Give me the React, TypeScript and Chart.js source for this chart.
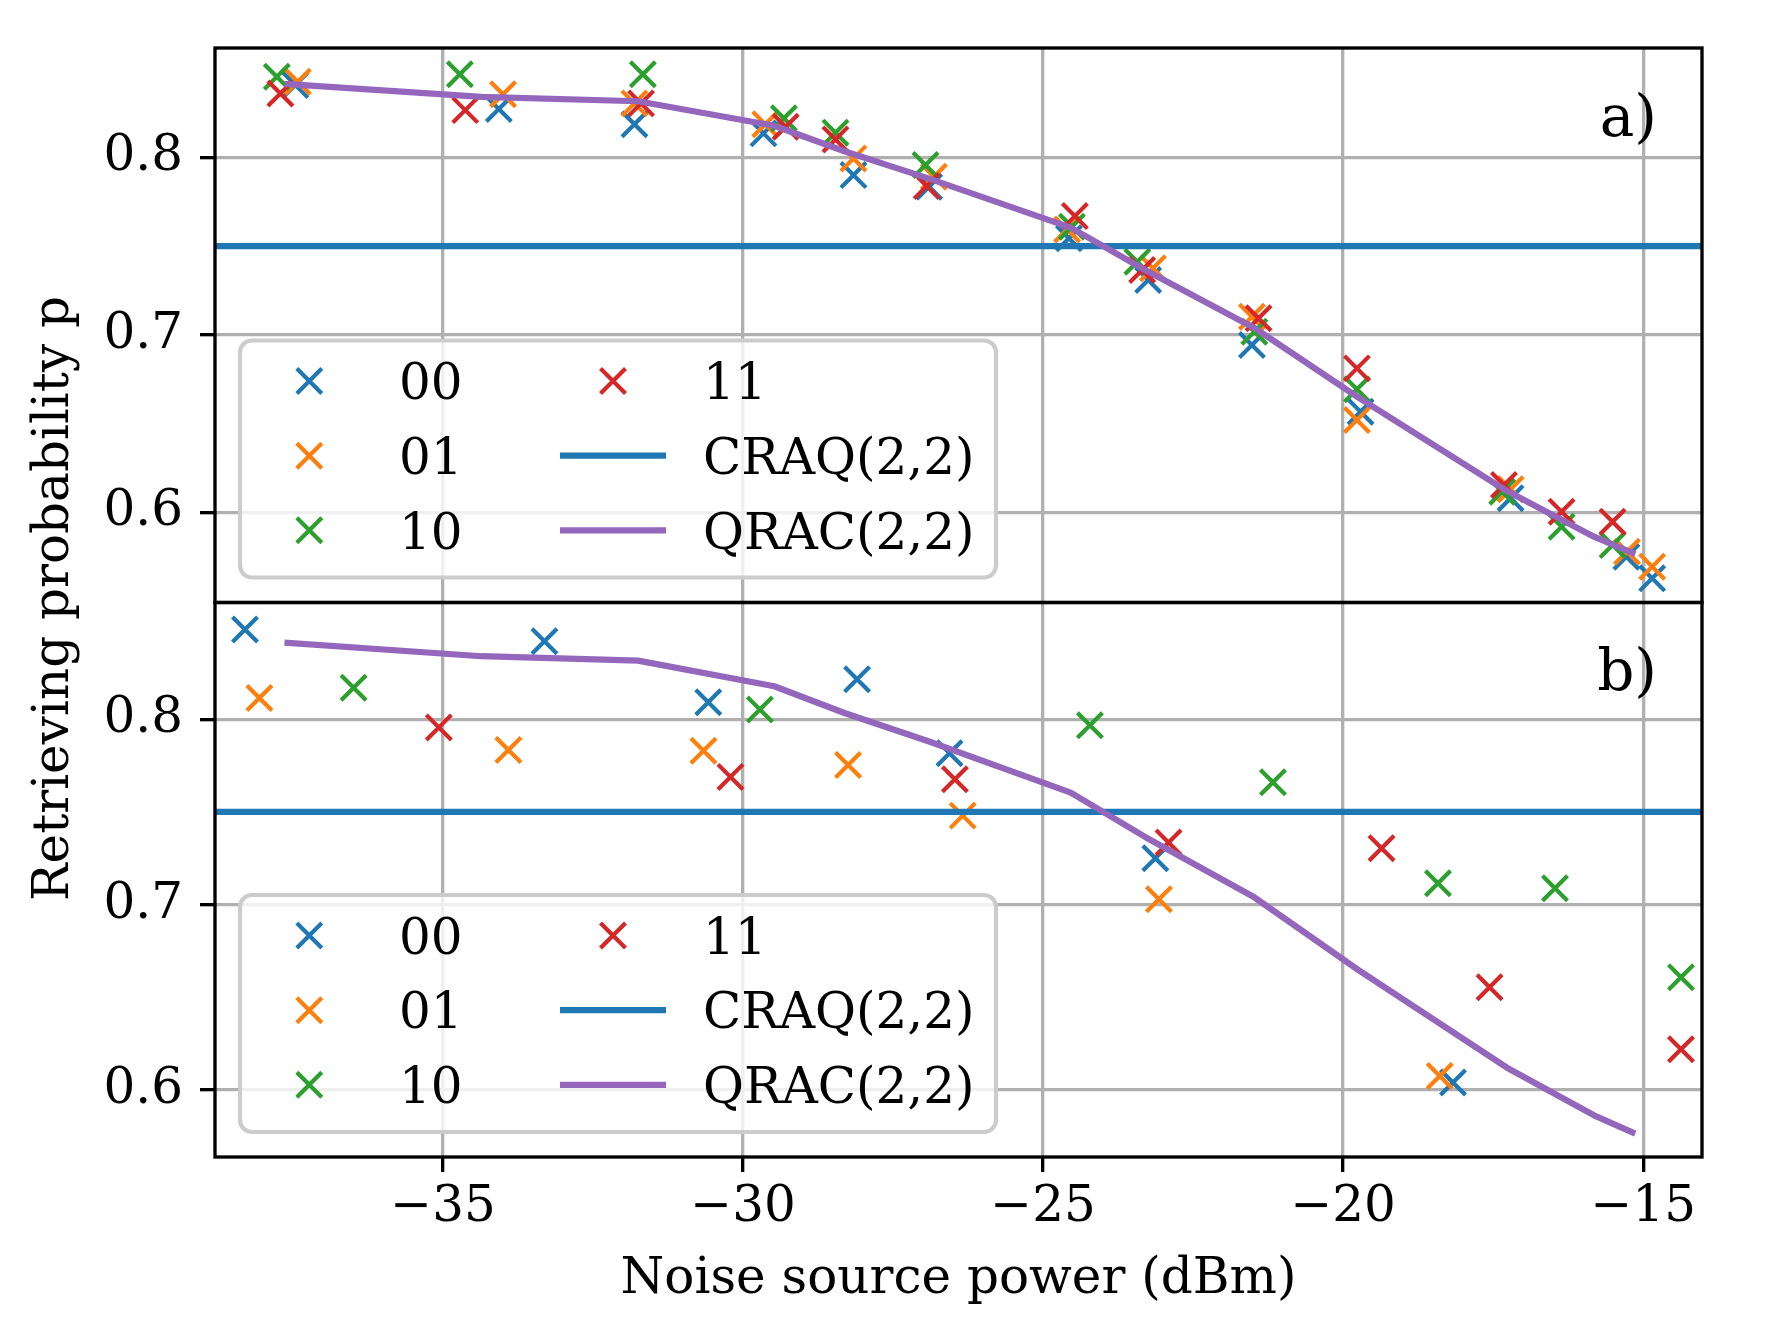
import React, { useEffect, useRef } from 'react';
import { Chart, registerables } from 'chart.js';

Chart.register(...registerables);

const FONT = "'DejaVu Serif', 'Liberation Serif', serif";
const W = 1771;
const H = 1332;

// axes
const X_MIN = -38.8;
const X_MAX = -14.02;
const X_TICKS = [-35, -30, -25, -20, -15];
const Y_TICKS = [0.6, 0.7, 0.8];
const A_Y_MIN = 0.5492;
const A_Y_MAX = 0.8616;
const B_Y_MIN = 0.5638;
const B_Y_MAX = 0.863;
const CRAQ_P = 0.75;

const SERIES_LABELS = ['00', '01', '10', '11'];
const SERIES_COLORS = ['#1f77b4', '#ff7f0e', '#2ca02c', '#d62728'];
const CRAQ_LABEL = 'CRAQ(2,2)';
const QRAC_LABEL = 'QRAC(2,2)';
const CRAQ_COLOR = '#1f77b4';
const QRAC_COLOR = '#9467bd';

// panel a)
const A_X_00 = [-37.46, -34.07, -31.81, -29.66, -28.16, -26.9, -24.57, -23.25, -21.52, -19.71, -17.21, -15.28, -14.85];
const A_P_00 = [0.8407, 0.8272, 0.8186, 0.8135, 0.79, 0.7834, 0.7544, 0.7309, 0.6943, 0.6567, 0.6079, 0.575, 0.5628];
const A_X_01 = [-37.42, -34.0, -31.81, -29.63, -28.16, -26.82, -24.6, -23.17, -21.52, -19.77, -17.21, -15.27, -14.85];
const A_P_01 = [0.8426, 0.8355, 0.8304, 0.8186, 0.7994, 0.7891, 0.7594, 0.7375, 0.7102, 0.652, 0.613, 0.5778, 0.5694];
const A_X_10 = [-37.77, -34.72, -31.67, -29.32, -28.46, -26.96, -24.52, -23.43, -21.48, -19.77, -17.35, -16.36, -15.51];
const A_P_10 = [0.8454, 0.8468, 0.8468, 0.822, 0.8139, 0.7957, 0.7609, 0.7412, 0.7017, 0.6693, 0.6116, 0.5919, 0.5816];
const A_X_11 = [-37.71, -34.63, -31.7, -29.29, -28.46, -26.94, -24.47, -23.35, -21.41, -19.77, -17.32, -16.36, -15.51];
const A_P_11 = [0.836, 0.8266, 0.8304, 0.8172, 0.8101, 0.7838, 0.7669, 0.7365, 0.7093, 0.6811, 0.6154, 0.6003, 0.5947];

// panel b)
const B_X_00 = [-38.3, -33.31, -30.58, -28.1, -26.56, -23.13, -18.17];
const B_P_00 = [0.8484, 0.8421, 0.8092, 0.8216, 0.7817, 0.725, 0.604];
const B_X_01 = [-38.06, -33.91, -30.66, -28.25, -26.34, -23.07, -18.39];
const B_P_01 = [0.8115, 0.7834, 0.783, 0.7753, 0.748, 0.7029, 0.6075];
const B_X_10 = [-36.49, -29.72, -24.22, -21.17, -18.42, -16.47, -14.37];
const B_P_10 = [0.817, 0.8053, 0.7968, 0.766, 0.7115, 0.7088, 0.6608];
const B_X_11 = [-35.07, -30.21, -26.47, -22.91, -19.36, -17.56, -14.37];
const B_P_11 = [0.7956, 0.7689, 0.7676, 0.7335, 0.7304, 0.6554, 0.6219];

// QRAC(2,2) curve (same in both panels)
const Q_X = [-37.59, -34.36, -31.75, -29.48, -28.31, -26.9, -24.54, -23.3, -21.48, -19.75, -17.27, -15.82, -15.18];
const Q_P = [0.8412, 0.834, 0.8316, 0.8178, 0.8034, 0.788, 0.7604, 0.7365, 0.7039, 0.6648, 0.612, 0.5863, 0.5771];

const PANEL_LABELS = ['a)', 'b)'];
const X_LABEL = 'Noise source power (dBm)';
const Y_LABEL = 'Retrieving probability p';

const fmtMinus = (v: number) => (v < 0 ? '\u2212' + String(Math.abs(v)) : String(v));

const LW = 6.25;
const MARKER_HALF = 12.5;
const MARKER_LW = 4.17;

function drawX(ctx: CanvasRenderingContext2D, cx: number, cy: number, color: string) {
  ctx.save();
  ctx.strokeStyle = color;
  ctx.lineWidth = MARKER_LW;
  ctx.lineCap = 'butt';
  ctx.beginPath();
  ctx.moveTo(cx - MARKER_HALF, cy - MARKER_HALF);
  ctx.lineTo(cx + MARKER_HALF, cy + MARKER_HALF);
  ctx.moveTo(cx - MARKER_HALF, cy + MARKER_HALF);
  ctx.lineTo(cx + MARKER_HALF, cy - MARKER_HALF);
  ctx.stroke();
  ctx.restore();
}

function drawLegend(ctx: CanvasRenderingContext2D, left: number, bottom: number) {
  const w = 756;
  const h = 237;
  const top = bottom - h;
  const r = 12;
  ctx.save();
  ctx.beginPath();
  ctx.moveTo(left + r, top);
  ctx.lineTo(left + w - r, top);
  ctx.arcTo(left + w, top, left + w, top + r, r);
  ctx.lineTo(left + w, top + h - r);
  ctx.arcTo(left + w, top + h, left + w - r, top + h, r);
  ctx.lineTo(left + r, top + h);
  ctx.arcTo(left, top + h, left, top + h - r, r);
  ctx.lineTo(left, top + r);
  ctx.arcTo(left, top, left + r, top, r);
  ctx.closePath();
  ctx.fillStyle = 'rgba(255,255,255,0.8)';
  ctx.fill();
  ctx.strokeStyle = '#cccccc';
  ctx.lineWidth = 4.17;
  ctx.stroke();

  const rows = [top + 40.5, top + 115.2, top + 189.8];
  ctx.font = `50px ${FONT}`;
  ctx.fillStyle = '#000';
  ctx.textAlign = 'left';
  ctx.textBaseline = 'alphabetic';
  const base = 18.2;
  for (let i = 0; i < 3; i++) {
    drawX(ctx, left + 69.3, rows[i], SERIES_COLORS[i]);
    ctx.fillStyle = '#000';
    ctx.fillText(SERIES_LABELS[i], left + 159, rows[i] + base);
  }
  drawX(ctx, left + 373, rows[0], SERIES_COLORS[3]);
  ctx.fillStyle = '#000';
  ctx.fillText(SERIES_LABELS[3], left + 463, rows[0] + base);
  const lines: [string, string][] = [
    [CRAQ_COLOR, CRAQ_LABEL],
    [QRAC_COLOR, QRAC_LABEL],
  ];
  lines.forEach(([c, lab], k) => {
    const y = rows[k + 1];
    ctx.strokeStyle = c;
    ctx.lineWidth = LW;
    ctx.lineCap = 'butt';
    ctx.beginPath();
    ctx.moveTo(left + 320, y);
    ctx.lineTo(left + 426, y);
    ctx.stroke();
    ctx.fillStyle = '#000';
    ctx.fillText(lab, left + 463, y + base);
  });
  ctx.restore();
}

const panelPlugin = {
  id: 'panelPlugin',
  afterDatasetsDraw(chart: any) {
    const { ctx, chartArea } = chart;
    const yT = chart.scales.yTop;
    const yB = chart.scales.yBot;
    ctx.save();
    ctx.strokeStyle = '#000';
    ctx.lineWidth = 3.33;
    ctx.strokeRect(chartArea.left, yT.top, chartArea.right - chartArea.left, yT.bottom - yT.top);
    ctx.strokeRect(chartArea.left, yB.top, chartArea.right - chartArea.left, yB.bottom - yB.top);
    ctx.restore();
  },
  afterDraw(chart: any) {
    const { ctx, chartArea } = chart;
    const yT = chart.scales.yTop;
    const yB = chart.scales.yBot;
    drawLegend(ctx, chartArea.left + 25, yT.bottom - 25);
    drawLegend(ctx, chartArea.left + 25, yB.bottom - 25);

    ctx.save();
    ctx.fillStyle = '#000';
    ctx.font = `58px ${FONT}`;
    ctx.textAlign = 'right';
    ctx.textBaseline = 'alphabetic';
    ctx.fillText(PANEL_LABELS[0], chartArea.right - 45, yT.top + 87.5);
    ctx.fillText(PANEL_LABELS[1], chartArea.right - 45, yB.top + 87.5);

    ctx.font = `50px ${FONT}`;
    ctx.textAlign = 'center';
    ctx.fillText(X_LABEL, (chartArea.left + chartArea.right) / 2, 1293);

    ctx.translate(68, (chartArea.top + chartArea.bottom) / 2 - 4);
    ctx.rotate(-Math.PI / 2);
    ctx.fillText(Y_LABEL, 0, 0);
    ctx.restore();
  },
};

function pts(xs: number[], ys: number[]) {
  return xs.map((x, i) => ({ x, y: ys[i] }));
}

export default function App() {
  const ref = useRef<HTMLCanvasElement>(null);

  useEffect(() => {
    const canvas = ref.current;
    if (!canvas) return;
    Chart.defaults.font.family = FONT;

    const datasets: any[] = [];
    const addPanel = (axis: string, xs: number[][], ys: number[][]) => {
      for (let s = 0; s < 4; s++) {
        datasets.push({
          label: SERIES_LABELS[s],
          data: pts(xs[s], ys[s]),
          yAxisID: axis,
          showLine: false,
          pointStyle: 'crossRot',
          pointRadius: 17.7,
          pointHoverRadius: 17.7,
          pointBorderWidth: MARKER_LW,
          pointHoverBorderWidth: MARKER_LW,
          borderColor: SERIES_COLORS[s],
          backgroundColor: SERIES_COLORS[s],
          clip: false,
        });
      }
      datasets.push({
        label: CRAQ_LABEL,
        data: [
          { x: X_MIN, y: CRAQ_P },
          { x: X_MAX, y: CRAQ_P },
        ],
        yAxisID: axis,
        showLine: true,
        pointRadius: 0,
        borderColor: CRAQ_COLOR,
        backgroundColor: CRAQ_COLOR,
        borderWidth: LW,
        borderCapStyle: 'butt',
        clip: 0,
      });
      datasets.push({
        label: QRAC_LABEL,
        data: pts(Q_X, Q_P),
        yAxisID: axis,
        showLine: true,
        pointRadius: 0,
        borderColor: QRAC_COLOR,
        backgroundColor: QRAC_COLOR,
        borderWidth: LW,
        borderCapStyle: 'square',
        borderJoinStyle: 'round',
        tension: 0,
        clip: 0,
      });
    };
    addPanel('yTop', [A_X_00, A_X_01, A_X_10, A_X_11], [A_P_00, A_P_01, A_P_10, A_P_11]);
    addPanel('yBot', [B_X_00, B_X_01, B_X_10, B_X_11], [B_P_00, B_P_01, B_P_10, B_P_11]);
    const n = datasets.length;
    datasets.forEach((d, i) => (d.order = n - i));

    const yAxis = (min: number, max: number, weight: number) => ({
      type: 'linear',
      position: 'left',
      stack: 'panels',
      stackWeight: 1,
      weight,
      min,
      max,
      afterFit: (s: any) => {
        s.width = 215;
      },
      afterBuildTicks: (s: any) => {
        s.ticks = Y_TICKS.map((v) => ({ value: v }));
      },
      ticks: {
        font: { family: FONT, size: 50 },
        color: '#000',
        padding: 17,
        callback: (v: any) => String(v),
      },
      grid: {
        color: '#b0b0b0',
        lineWidth: 3.33,
        tickColor: '#000',
        tickLength: 15,
        tickWidth: 3.33,
        drawTicks: true,
      },
      border: { display: false },
    });

    const chart = new Chart(canvas, {
      type: 'scatter',
      data: { datasets },
      options: {
        responsive: false,
        maintainAspectRatio: false,
        animation: false,
        devicePixelRatio: 1,
        events: [],
        layout: { padding: { left: 0, top: 48, right: 69, bottom: 0 } },
        plugins: {
          legend: { display: false },
          tooltip: { enabled: false },
          title: { display: false },
        },
        scales: {
          x: {
            type: 'linear',
            position: 'bottom',
            min: X_MIN,
            max: X_MAX,
            afterFit: (s: any) => {
              s.height = 175;
            },
            afterBuildTicks: (s: any) => {
              s.ticks = X_TICKS.map((v) => ({ value: v }));
            },
            ticks: {
              font: { family: FONT, size: 50 },
              color: '#000',
              padding: 6,
              maxRotation: 0,
              autoSkip: false,
              callback: (v: any) => fmtMinus(Number(v)),
            },
            grid: {
              color: '#b0b0b0',
              lineWidth: 3.33,
              tickColor: '#000',
              tickLength: 15,
              tickWidth: 3.33,
              drawTicks: true,
            },
            border: { display: false },
          },
          yTop: yAxis(A_Y_MIN, A_Y_MAX, 1),
          yBot: yAxis(B_Y_MIN, B_Y_MAX, 0),
        } as any,
      },
      plugins: [panelPlugin],
    } as any);

    return () => {
      chart.destroy();
    };
  }, []);

  return (
    <div style={{ position: 'absolute', left: 0, top: 0, width: W, height: H, background: '#fff' }}>
      <canvas ref={ref} width={W} height={H} style={{ display: 'block', width: W, height: H }} />
    </div>
  );
}
